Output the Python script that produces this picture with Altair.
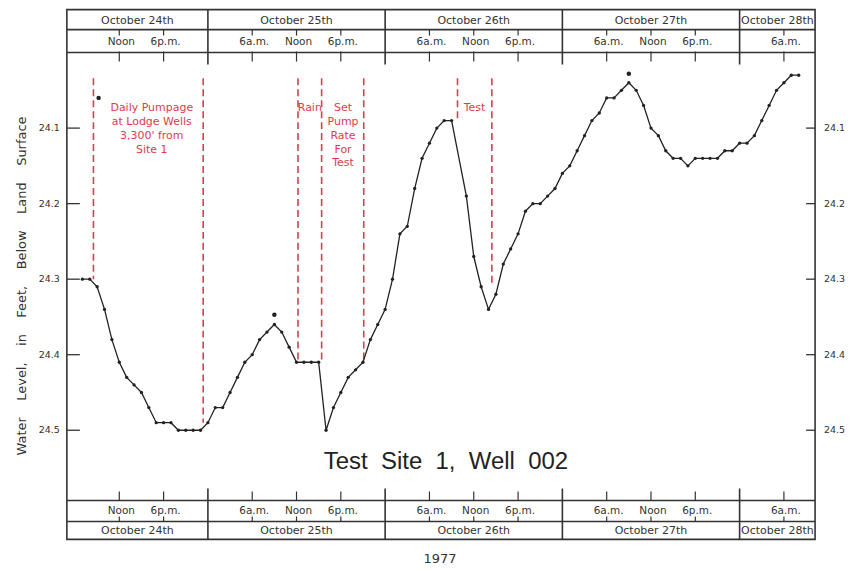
import altair as alt
import pandas as pd

# ---------------- data (hours counted from Oct 24, 1977, 00:00) ----------------
hours = [7, 8, 9, 10, 11, 12, 13, 14, 15, 16, 17, 18, 19, 20, 21, 22, 23,
         24, 25, 26, 27, 28, 29, 30, 31, 32, 33, 34, 35, 36, 37, 38, 39, 40, 41, 42, 43, 44, 45, 46, 47,
         48, 49, 50, 51, 52, 53, 54, 55, 56, 57,
         59, 60, 61, 62, 63, 64, 65, 66, 67, 68, 69, 70, 71,
         72, 73, 74, 75, 76, 77, 78, 79, 80, 81, 82, 83, 84, 85, 86, 87, 88, 89, 90, 91, 92, 93, 94, 95,
         96, 97, 98, 99, 100, 101, 102, 103, 104]
levels = [24.30, 24.30, 24.31, 24.34, 24.38, 24.41, 24.43, 24.44, 24.45, 24.47, 24.49, 24.49, 24.49, 24.50, 24.50, 24.50, 24.50,
          24.49, 24.47, 24.47, 24.45, 24.43, 24.41, 24.40, 24.38, 24.37, 24.36, 24.37, 24.39, 24.41, 24.41, 24.41, 24.41,
          24.50, 24.47, 24.45, 24.43, 24.42, 24.41, 24.38, 24.36,
          24.34, 24.30, 24.24, 24.23, 24.18, 24.14, 24.12, 24.10, 24.09, 24.09,
          24.19, 24.27, 24.31, 24.34, 24.32, 24.28, 24.26, 24.24, 24.21, 24.20, 24.20, 24.19, 24.18,
          24.16, 24.15, 24.13, 24.11, 24.09, 24.08, 24.06, 24.06, 24.05, 24.04, 24.05, 24.07, 24.10, 24.11,
          24.13, 24.14, 24.14, 24.15, 24.14, 24.14, 24.14, 24.14, 24.13, 24.13,
          24.12, 24.12, 24.11, 24.09, 24.07, 24.05, 24.04, 24.03, 24.03]

note_hours = [9.2, 33.0, 81.0]
note_levels = [24.06, 24.347, 24.028]

event_hours = [8.5, 23.36, 36.2, 39.4, 45.1, 57.8, 62.45]
event_top = [24.034, 24.034, 24.034, 24.034, 24.034, 24.034, 24.034]
event_bottom = [24.30, 24.49, 24.41, 24.41, 24.41, 24.092, 24.31]

label_texts = ["Daily Pumpage\nat Lodge Wells\n3,300' from\nSite 1", "Rain",
               "Set\nPump\nRate\nFor\nTest", "Test"]
label_hours = [16.4, 37.8, 42.3, 60.1]
label_levels = [24.065, 24.065, 24.065, 24.065]

tick_hours = [12, 18, 30, 36, 42, 54, 60, 66, 78, 84, 90, 102]
tick_labels = ["Noon", "6p.m.", "6a.m.", "Noon", "6p.m.", "6a.m.", "Noon", "6p.m.",
               "6a.m.", "Noon", "6p.m.", "6a.m."]
day_bounds = [24, 48, 72, 96]
day_names_top = ["October 24th", "October 25th", "October 26th", "October 27th", "October 28th"]
day_names_bottom = ["October 24th", "October 25th", "October 26th", "October 27th", "October 28th"]
y_ticks = [24.1, 24.2, 24.3, 24.4, 24.5]

chart_title = "Test\u00a0\u00a0Site\u00a0\u00a01,\u00a0\u00a0Well\u00a0\u00a0002"
year_label = "1977"
y_title = ("Water \u00a0\u00a0\u00a0Level, \u00a0\u00a0\u00a0in \u00a0\u00a0\u00a0Feet, \u00a0\u00a0\u00a0"
           "Below \u00a0\u00a0\u00a0Land \u00a0\u00a0\u00a0Surface")

# ---------------- layout ----------------
W, H = 750, 531
X_DOMAIN = [4.9, 106.22]
Y_DOMAIN = [24.0, 24.593]
Y_RANGE = [43, 492]
RED = "#e23a4c"
INK = "#222222"
FRAME = "#333333"
FONT = "DejaVu Sans"

xs = alt.Scale(domain=X_DOMAIN)
ys = alt.Scale(domain=Y_DOMAIN, range=Y_RANGE)


def X(f):
    return alt.X(f"{f}:Q", scale=xs, axis=None)


def Y(f):
    return alt.Y(f"{f}:Q", scale=ys, axis=None)


df = pd.DataFrame({"h": hours, "level": levels})
one = pd.DataFrame({"k": [0]})

line = alt.Chart(df).mark_line(color=INK, strokeWidth=1.3).encode(x=X("h"), y=Y("level"))
pts = alt.Chart(df).mark_circle(color=INK, size=11, opacity=1).encode(x=X("h"), y=Y("level"))

notes = alt.Chart(pd.DataFrame({"h": note_hours, "level": note_levels})).mark_circle(
    color=INK, size=20, opacity=1).encode(x=X("h"), y=Y("level"))

events = alt.Chart(pd.DataFrame({"h": event_hours, "top": event_top, "bottom": event_bottom})).mark_rule(
    color=RED, strokeWidth=1.6, strokeDash=[7, 4]).encode(x=X("h"), y=Y("top"), y2="bottom")

event_text = alt.Chart(pd.DataFrame({"h": label_hours, "level": label_levels, "txt": label_texts})).mark_text(
    color=RED, font=FONT, fontSize=11, align="center", baseline="top", lineBreak="\n", lineHeight=14
).encode(x=X("h"), y=Y("level"), text="txt:N")

# y ticks drawn inward, labels on both sides
ydf = pd.DataFrame({"v": y_ticks, "lab": [f"{v:.1f}" for v in y_ticks]})
lt = alt.Chart(ydf).mark_rule(color=FRAME, strokeWidth=1.3).encode(
    x=alt.value(0), x2=alt.value(13), y=Y("v"))
rt = alt.Chart(ydf).mark_rule(color=FRAME, strokeWidth=1.3).encode(
    x=alt.value(W - 9), x2=alt.value(W), y=Y("v"))
llab = alt.Chart(ydf).mark_text(font=FONT, fontSize=9.5, color="#333", align="right", baseline="middle").encode(
    x=alt.value(-7), y=Y("v"), text="lab:N")
rlab = alt.Chart(ydf).mark_text(font=FONT, fontSize=9.5, color="#333", align="left", baseline="middle").encode(
    x=alt.value(W + 9), y=Y("v"), text="lab:N")

ytitle = alt.Chart(pd.DataFrame({"t": [y_title]})).mark_text(
    font=FONT, fontSize=13, color="#333", angle=270, align="center", baseline="middle").encode(
    x=alt.value(-45), y=alt.value(277), text="t:N")

# header / footer boxes
hlines = [alt.Chart(one).mark_rule(color=FRAME, strokeWidth=1.6).encode(
    x=alt.value(0), x2=alt.value(W), y=alt.value(yv)) for yv in [20, 43, 492, 513]]

ddf = pd.DataFrame({"h": day_bounds})
day_top = alt.Chart(ddf).mark_rule(color=FRAME, strokeWidth=1.6).encode(
    x=X("h"), y=alt.value(0), y2=alt.value(55))
day_bot = alt.Chart(ddf).mark_rule(color=FRAME, strokeWidth=1.6).encode(
    x=X("h"), y=alt.value(480), y2=alt.value(H))

tdf = pd.DataFrame({"h": tick_hours, "lab": tick_labels})
tick_layers = [alt.Chart(tdf).mark_rule(color=FRAME, strokeWidth=1.2).encode(
    x=X("h"), y=alt.value(a), y2=alt.value(b)) for a, b in [(20, 26), (42, 52), (483, 492), (508, 513)]]
tlab_top = alt.Chart(tdf).mark_text(font=FONT, fontSize=10.5, color="#333", baseline="middle", dx=2).encode(
    x=X("h"), y=alt.value(32.5), text="lab:N")
tlab_bot = alt.Chart(tdf).mark_text(font=FONT, fontSize=10.5, color="#333", baseline="middle", dx=2).encode(
    x=X("h"), y=alt.value(503), text="lab:N")

edges = [X_DOMAIN[0]] + day_bounds + [X_DOMAIN[1]]
centers = [(edges[i] + edges[i + 1]) / 2 for i in range(len(edges) - 1)]
dl_top = alt.Chart(pd.DataFrame({"h": centers, "lab": day_names_top})).mark_text(
    font=FONT, fontSize=11, color="#333", baseline="middle").encode(x=X("h"), y=alt.value(11), text="lab:N")
dl_bot = alt.Chart(pd.DataFrame({"h": centers, "lab": day_names_bottom})).mark_text(
    font=FONT, fontSize=11, color="#333", baseline="middle").encode(x=X("h"), y=alt.value(522.5), text="lab:N")

title = alt.Chart(pd.DataFrame({"t": [chart_title]})).mark_text(
    font="Liberation Sans", fontSize=24, color="#222",
    baseline="middle", align="center").encode(x=alt.value(380), y=alt.value(453), text="t:N")
year = alt.Chart(pd.DataFrame({"t": [year_label]})).mark_text(
    font=FONT, fontSize=13, color="#333", baseline="middle", align="center").encode(
    x=alt.value(374), y=alt.value(551), text="t:N")

chart = alt.layer(
    *hlines, day_top, day_bot, *tick_layers, tlab_top, tlab_bot, dl_top, dl_bot,
    lt, rt, llab, rlab, ytitle, events, event_text, line, pts, notes, title, year
).properties(
    width=W, height=H,
    autosize=alt.AutoSizeParams(type="none"),
    padding={"left": 59, "top": 1, "right": 32, "bottom": 27},
    background="white",
).configure_view(stroke=FRAME, strokeWidth=1.6)

chart.save("out.html", embed_options={"renderer": "svg", "actions": False})
